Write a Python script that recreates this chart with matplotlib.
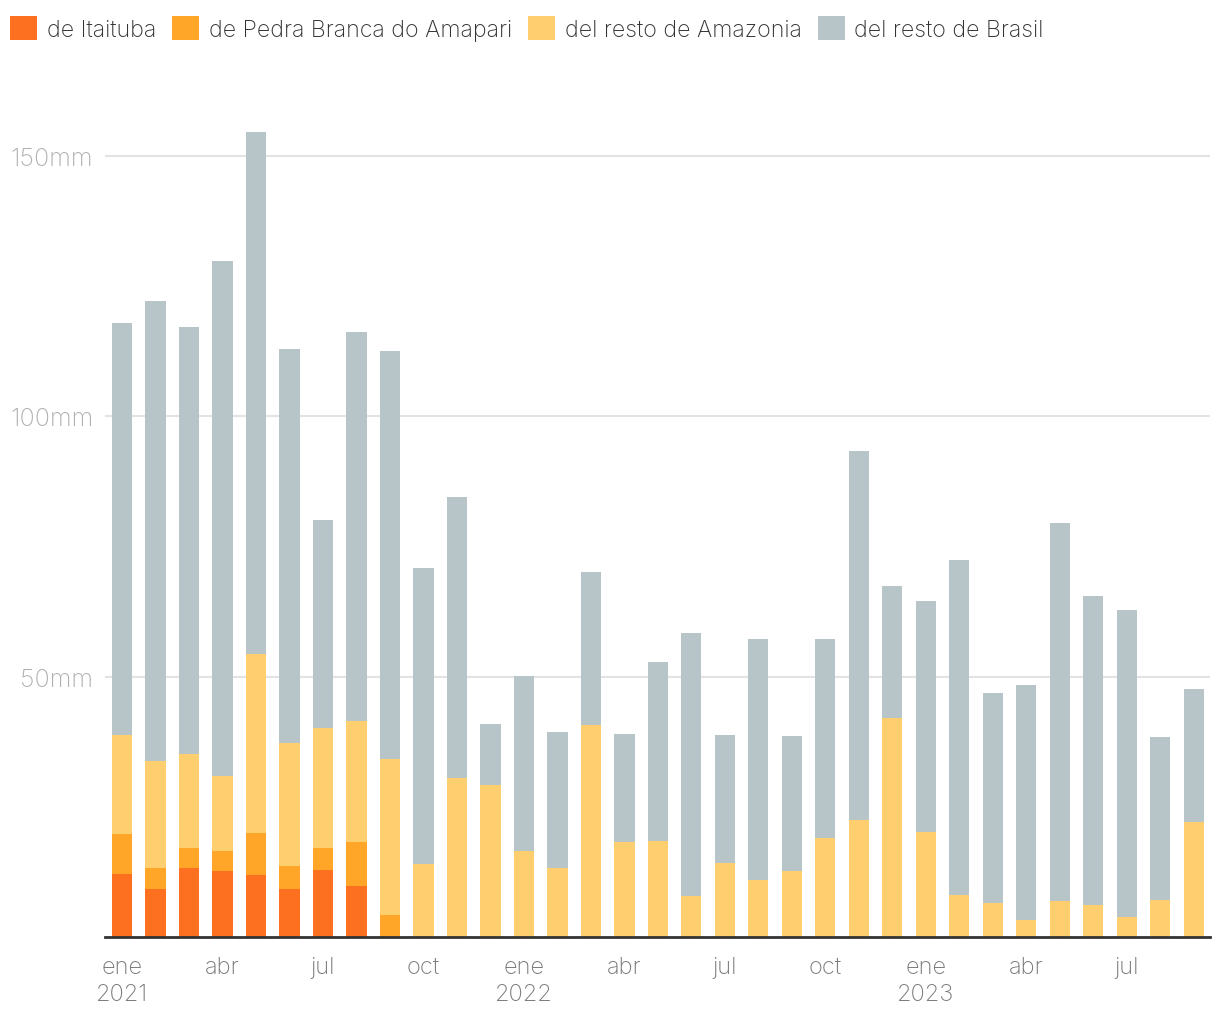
import matplotlib
matplotlib.use("Agg")
import matplotlib.pyplot as plt
from matplotlib.patches import Patch
import numpy as np

plt.rcParams['font.family'] = ['Inter', 'DejaVu Sans']

months = ["ene", "feb", "mar", "abr", "may", "jun", "jul", "ago", "sep", "oct", "nov", "dic"] * 3
months = months[:33]
years = [2021] * 12 + [2022] * 12 + [2023] * 9

itaituba = [12.1, 9.2, 13.3, 12.7, 11.9, 9.2, 12.9, 9.8] + [0] * 25
pedra_branca = [7.7, 4.1, 3.8, 3.8, 8.1, 4.4, 4.2, 8.4, 4.2] + [0] * 24
resto_amazonia = [19.0, 20.5, 18.0, 14.4, 34.3, 23.7, 23.0, 23.3, 30.0,
                  14.0, 30.5, 29.2, 16.5, 13.3, 40.7, 18.2, 18.4, 7.9, 14.2, 10.9, 12.7,
                  19.0, 22.5, 42.1, 20.2, 8.1, 6.5, 3.3, 6.9, 6.1, 3.8, 7.1, 22.1]
totals = [117.9, 122.1, 117.1, 129.8, 154.6, 112.9, 80.1, 116.2, 112.5,
          70.9, 84.5, 40.9, 50.1, 39.4, 70.1, 39.0, 52.8, 58.4, 38.8, 57.2, 38.6,
          57.2, 93.3, 67.4, 64.5, 72.4, 46.9, 48.4, 79.5, 65.5, 62.8, 38.4, 47.6]
resto_brasil = [round(t - a - b - c, 1) for t, a, b, c in zip(totals, itaituba, pedra_branca, resto_amazonia)]

labels = ["de Itaituba", "de Pedra Branca do Amapari", "del resto de Amazonia", "del resto de Brasil"]
colors = ["#FC7020", "#FFA628", "#FFCE6E", "#B7C5C9"]
yticks = [50, 100, 150]

fig = plt.figure(figsize=(12.2, 10.2), dpi=100)
ax = fig.add_axes([105 / 1220, 82 / 1020, 1105 / 1220, 833.1 / 1020])

x = np.arange(len(months))
bottom = np.zeros(len(months))
for vals, col in zip([itaituba, pedra_branca, resto_amazonia, resto_brasil], colors):
    v = np.array(vals, dtype=float)
    ax.bar(x, v, bottom=bottom, width=0.6, color=col, linewidth=0, zorder=3)
    bottom += v

ax.set_xlim(-0.507, 32.48)
ax.set_ylim(0, 160)

for s in ["top", "right", "left"]:
    ax.spines[s].set_visible(False)
ax.spines["bottom"].set_color("#333333")
ax.spines["bottom"].set_linewidth(2)
ax.spines["bottom"].set_zorder(5)

ax.set_yticks(yticks)
ax.set_yticklabels([f"{v}mm" for v in yticks])
ax.yaxis.grid(True, color="#e3e3e3", linewidth=1.5, zorder=0)
ax.tick_params(axis="y", length=0, pad=8.5, labelsize=18, labelcolor="#b0b0b0")

tick_idx = [i for i in range(len(months)) if i % 3 == 0]
tick_lab = []
for i in tick_idx:
    if months[i] == "ene":
        tick_lab.append(f"{months[i]}\n{years[i]}")
    else:
        tick_lab.append(months[i])
ax.set_xticks(tick_idx)
ax.set_xticklabels(tick_lab, linespacing=1.3)
ax.tick_params(axis="x", length=0, pad=13.5, labelsize=17, labelcolor="#7a7a7a")
for t in ax.get_xticklabels() + ax.get_yticklabels():
    t.set_fontweight("light")

handles = [Patch(facecolor=c, edgecolor="none") for c in colors]
leg = fig.legend(handles, labels, loc="upper left", bbox_to_anchor=(8 / 1220, 1 - 15 / 1020), ncol=4,
                 frameon=False, handlelength=1.17, handleheight=1.17,
                 handletextpad=0.42, columnspacing=0.68, borderaxespad=0.0, borderpad=0.1,
                 prop={"size": 16.7, "weight": "light"})
for t in leg.get_texts():
    t.set_color("#333333")

fig.savefig("out.png", dpi=100)
